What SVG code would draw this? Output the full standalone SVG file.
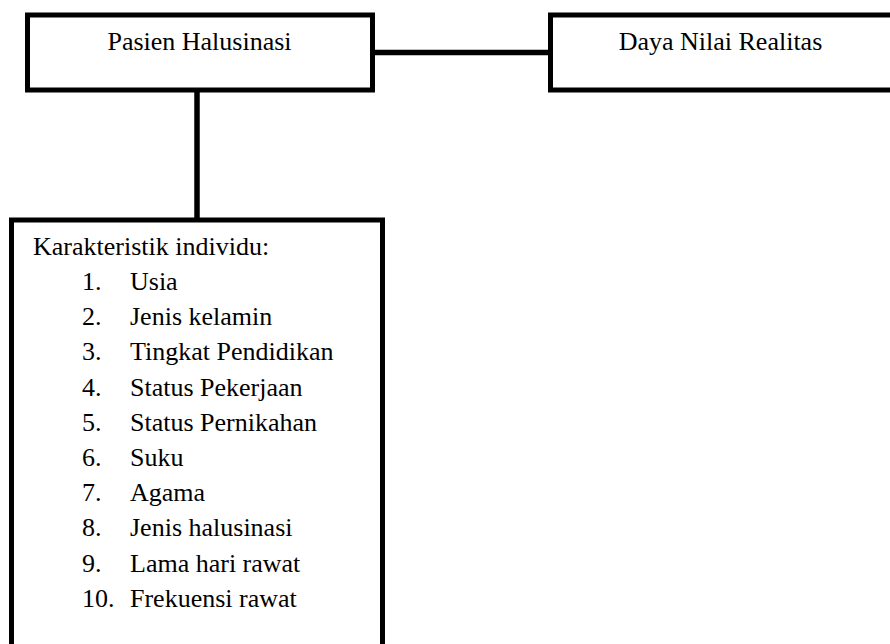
<svg xmlns="http://www.w3.org/2000/svg" width="890" height="644" viewBox="0 0 890 644">
<style>
  .box { fill: #ffffff; stroke: #000000; stroke-width: 5; }
  .conn { stroke: #000000; stroke-width: 5.5; fill: none; }
  text { font-family: "Liberation Serif", "Times New Roman", serif; font-size: 26px; fill: #000000; }
  .c { text-anchor: middle; }
</style>
<rect width="890" height="644" fill="#ffffff"/>
<g id="connectors">
  <line class="conn" x1="372.5" y1="52.5" x2="550.5" y2="52.5"/>
  <line class="conn" x1="197" y1="90" x2="197" y2="220"/>
</g>
<g id="node-pasien">
  <rect class="box" x="27.5" y="15" width="345" height="75"/>
  <text class="c" x="199.5" y="50">Pasien Halusinasi</text>
</g>
<g id="node-daya">
  <rect class="box" x="550.5" y="15" width="360" height="75"/>
  <text class="c" x="720.5" y="50">Daya Nilai Realitas</text>
</g>
<g id="node-karakteristik">
  <rect class="box" x="11.5" y="220" width="371" height="450"/>
  <text x="33" y="255">Karakteristik individu:</text>
  <text x="82" y="290">1.</text><text x="130" y="290">Usia</text>
  <text x="82" y="325.2">2.</text><text x="130" y="325.2">Jenis kelamin</text>
  <text x="82" y="360.4">3.</text><text x="130" y="360.4">Tingkat Pendidikan</text>
  <text x="82" y="395.6">4.</text><text x="130" y="395.6">Status Pekerjaan</text>
  <text x="82" y="430.8">5.</text><text x="130" y="430.8">Status Pernikahan</text>
  <text x="82" y="466">6.</text><text x="130" y="466">Suku</text>
  <text x="82" y="501.2">7.</text><text x="130" y="501.2">Agama</text>
  <text x="82" y="536.4">8.</text><text x="130" y="536.4">Jenis halusinasi</text>
  <text x="82" y="571.6">9.</text><text x="130" y="571.6">Lama hari rawat</text>
  <text x="82" y="606.8">10.</text><text x="130" y="606.8">Frekuensi rawat</text>
</g>
</svg>
